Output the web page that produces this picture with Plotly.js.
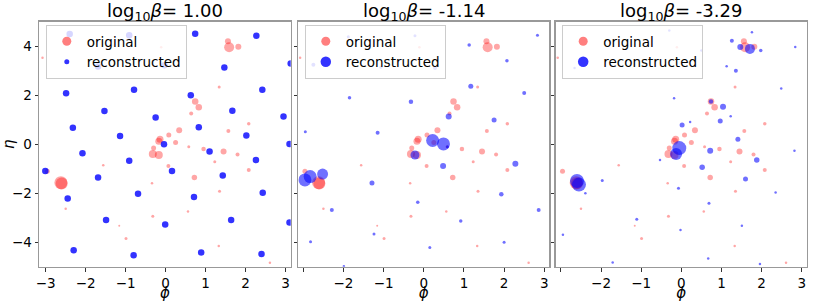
<!DOCTYPE html>
<html>
<head>
<meta charset="utf-8">
<script src="https://cdn.plot.ly/plotly-3.0.1.min.js"></script>
<style>html,body{margin:0;padding:0;background:#fff}#chart{width:822px;height:302px}</style>
</head>
<body>
<div id="chart"></div>
<script>
// ---- data ----
const panelTitles = ['log<sub>10</sub><i>β</i>= 1.00', 'log<sub>10</sub><i>β</i>= -1.14', 'log<sub>10</sub><i>β</i>= -3.29'];
const xTickVals1 = [-3, -2, -1, 0, 1, 2, 3];
const xTickText1 = ['−3', '−2', '−1', '0', '1', '2', '3'];
const xTickValsN = [-2, -1, 0, 1, 2, 3];
const xTickTextN = ['−2', '−1', '0', '1', '2', '3'];
const xUnlabelledTicks = [-3];
const yTickVals = [-4, -2, 0, 2, 4];

// original (same in all panels)
const phiOrig  = [1.59, 1.56, 1.82, -3.08, -0.11, 1.34, 0.74, 0.83, 0.64, 2.08, 1.57, 0.34, 0.08, -0.14, -0.17, 0.25, -0.30, 0.58, 0.95, 1.45, 1.80, -0.32, -0.17, 1.23, 0.07, -1.56, 2.08, -2.96, -2.62, -2.60, 0.72, -0.34, 1.35, -2.50, 0.56, -0.32, -1.16, -0.99, 1.33, 2.61];
const etaOrig  = [3.96, 4.20, 3.98, 3.53, 3.96, 2.33, 1.74, 1.51, 1.25, 0.83, 0.54, 0.57, 0.38, 0.20, 0.12, 0.07, -0.16, -0.10, -0.20, -0.30, -0.42, -0.40, -0.44, -0.72, -0.89, -0.86, -1.05, -1.10, -1.57, -1.60, -1.36, -1.59, -1.92, -2.63, -2.75, -2.94, -3.33, -3.85, -4.15, -4.84];
const sizeOrig = [10, 6, 6, 2.5, 2.5, 3, 6.5, 6.5, 4, 3.5, 4, 6, 5, 7, 7, 5, 5, 3, 4.5, 6, 4, 8, 8, 3, 4, 2.5, 4, 5, 13, 12, 5.5, 2.5, 3, 2.5, 2.5, 3, 2, 3, 2.5, 2.5];

// reconstructed, panel 1
const phiRec1 = [-2.40, -0.91, 0.74, 2.27, -1.69, -0.03, 1.47, 3.13, -2.49, -0.79, 2.42, 0.63, -1.53, 1.67, -0.25, 2.95, -2.32, 0.83, -1.14, 2.02, -0.04, 3.10, 1.10, -2.08, -0.91, 2.26, -3.01, 0.16, -1.69, 1.43, -2.45, -0.69, 0.71, 2.43, -1.49, 1.64, -0.01, 3.10, -2.30, -0.80, 0.89, 2.40];
const etaRec1 = [4.50, 4.45, 4.51, 4.43, 3.17, 3.22, 3.13, 3.29, 2.08, 2.22, 2.22, 2.00, 1.36, 1.37, 1.09, 1.13, 0.67, 0.69, 0.33, 0.35, 0.00, 0.01, -0.30, -0.37, -0.68, -0.65, -1.09, -1.09, -1.36, -1.28, -2.22, -2.02, -2.16, -1.98, -3.09, -3.09, -3.28, -3.20, -4.33, -4.53, -4.42, -4.48];
const sizeRec1 = 6.5;

// reconstructed, panel 2
const phiRec2  = [-1.88, -0.22, 2.83, 1.13, -2.75, -1.07, 0.28, 2.07, 1.17, -1.85, 2.50, -0.32, 0.62, 1.75, -2.95, -1.15, 0.22, 0.49, 0.59, -0.22, 0.48, 2.28, -2.83, -2.96, -2.52, -1.29, 1.93, -0.15, -2.29, 2.86, 0.92, -1.24, -2.82, 2.00, 0.15, -1.99];
const etaRec2  = [4.39, 4.43, 4.45, 4.05, 3.24, 3.14, 3.11, 3.41, 2.37, 1.90, 2.09, 1.73, 1.13, 0.99, 0.51, 0.47, 0.15, 0.01, -0.10, -0.44, -0.89, -0.80, -1.32, -1.46, -1.22, -1.58, -2.04, -2.37, -2.69, -2.69, -3.13, -3.67, -3.98, -4.00, -4.22, -4.98];
const sizeRec2 = [3, 3, 3, 3.5, 4, 3, 4, 3.5, 5, 3.5, 4, 4.5, 6, 5, 3, 4, 13, 13, 3, 9, 6, 6, 13, 13, 11, 5, 4.5, 3.5, 4, 4, 3.5, 3, 3, 3, 3, 2.5];

// reconstructed, panel 3
const phiRec3  = [-0.30, 0.50, -2.66, 1.76, 1.26, 1.47, 1.71, 1.98, 2.84, 1.13, 1.36, 2.49, -0.18, 0.74, 1.04, 1.23, 0.97, 0.22, 0.02, 1.41, -0.05, -0.13, 0.72, -0.53, 0.52, 1.88, 2.82, -1.97, -2.60, -2.55, -2.39, 1.60, -0.07, 2.35, 0.69, -1.11, 1.51, -0.02, -2.95, 0.67, -1.71, 1.96];
const etaRec3  = [4.64, 3.82, 3.11, 4.57, 4.22, 3.97, 3.89, 3.82, 3.97, 3.18, 3.00, 2.27, 1.88, 1.74, 1.53, 1.14, 0.95, 0.91, 0.78, 0.20, -0.16, -0.40, -0.27, -0.64, -0.94, -0.65, -0.27, -1.48, -1.50, -1.65, -2.00, -1.42, -1.80, -1.97, -2.41, -3.06, -3.33, -3.50, -3.70, -4.67, -4.83, -4.89];
const sizeRec3 = [2.5, 2.5, 2.5, 2.5, 4, 6, 10, 3.5, 2.5, 2.5, 4, 2.5, 2.5, 4.5, 6, 2.5, 5, 2.5, 5, 5, 14, 12, 6, 2.5, 5.5, 5.5, 2.5, 3, 14, 14, 2.5, 5, 3, 2.5, 3, 3, 2.5, 2.5, 2.5, 2.5, 2.5, 2.5];

const legendSizes = [[9, 5], [9, 10.5], [9, 10.5]];

// ---- style ----
const RED = 'rgba(255,0,0,0.5)';
const BLUE = 'rgba(0,0,255,0.8)';
const FONT = 'DejaVu Sans, Liberation Sans, sans-serif';
const W = 822, H = 302;
const xDomPx = [[39.3, 290.7], [298.3, 549.3], [555.7, 806.7]];
const yDomPx = [21.7, 266.7];
const xRanges = [[-3.16, 3.13], [-3.125, 3.125], [-3.13, 3.125]];

const recPhi = [phiRec1, phiRec2, phiRec3];
const recEta = [etaRec1, etaRec2, etaRec3];
const recSize = [sizeRec1, sizeRec2, sizeRec3];

const traces = [];
const layout = {
  width: W, height: H,
  margin: {l: 0, r: 0, t: 0, b: 0},
  paper_bgcolor: '#fff', plot_bgcolor: '#fff',
  font: {family: FONT, color: '#000'},
  annotations: []
};

for (let i = 0; i < 3; i++) {
  const sfx = i === 0 ? '' : String(i + 1);
  const xa = 'x' + sfx, ya = 'y' + sfx, lg = 'legend' + sfx;
  traces.push({type: 'scatter', mode: 'markers', x: phiOrig, y: etaOrig, xaxis: xa, yaxis: ya,
    marker: {color: RED, size: sizeOrig, line: {width: 0}}, showlegend: false, hoverinfo: 'skip'});
  traces.push({type: 'scatter', mode: 'markers', x: recPhi[i], y: recEta[i], xaxis: xa, yaxis: ya,
    marker: {color: BLUE, size: recSize[i], line: {width: 0}}, showlegend: false, hoverinfo: 'skip'});
  // legend entries
  traces.push({type: 'scatter', mode: 'markers', x: [null], y: [null], xaxis: xa, yaxis: ya, name: 'original',
    marker: {color: RED, size: legendSizes[i][0], line: {width: 0}}, legend: lg, showlegend: true});
  traces.push({type: 'scatter', mode: 'markers', x: [null], y: [null], xaxis: xa, yaxis: ya, name: 'reconstructed',
    marker: {color: BLUE, size: legendSizes[i][1], line: {width: 0}}, legend: lg, showlegend: true});

  const xaxis = {
    domain: [xDomPx[i][0] / W, xDomPx[i][1] / W], range: xRanges[i], anchor: ya,
    tickmode: 'array', tickvals: i === 0 ? xTickVals1 : xTickValsN, ticktext: i === 0 ? xTickText1 : xTickTextN,
    ticks: 'outside', ticklen: 3.5, tickwidth: 1, tickcolor: '#333',
    showline: true, mirror: true, linecolor: '#999', linewidth: 1.3,
    showgrid: false, zeroline: false,
    tickfont: {size: 13.5, family: FONT, color: '#000'},
    title: {text: '<i>ϕ</i>', font: {size: 15, family: FONT, color: '#000'}, standoff: 4}
  };
  if (i > 0) {
    xaxis.minor = {tickmode: 'array', tickvals: xUnlabelledTicks, ticks: 'outside', ticklen: 3.5, tickwidth: 1, tickcolor: '#333', showgrid: false};
  }
  layout['xaxis' + sfx] = xaxis;
  const yaxis = {
    domain: [1 - yDomPx[1] / H, 1 - yDomPx[0] / H], range: [-5, 5], anchor: xa,
    tickmode: 'array', tickvals: yTickVals, showticklabels: i === 0,
    ticks: 'outside', ticklen: 3.5, tickwidth: 1, tickcolor: '#333',
    showline: true, mirror: true, linecolor: '#999', linewidth: 1.3,
    showgrid: false, zeroline: false,
    tickfont: {size: 13.5, family: FONT, color: '#000'}
  };
  if (i === 0) yaxis.title = {text: '<i>η</i>', font: {size: 15, family: FONT, color: '#000'}, standoff: 6};
  layout['yaxis' + sfx] = yaxis;
  layout[lg] = {
    x: (xDomPx[i][0] + 6.5) / W, y: 1 - 25 / H, xanchor: 'left', yanchor: 'top',
    bgcolor: 'rgba(255,255,255,0.8)', bordercolor: '#cccccc', borderwidth: 1,
    font: {size: 13.5, family: FONT, color: '#000'}, itemsizing: 'trace', tracegroupgap: 0
  };
  layout.annotations.push({
    text: panelTitles[i], xref: xa + ' domain', yref: 'paper', x: 0.5, y: 1 - 11.5 / H,
    xanchor: 'center', yanchor: 'middle', showarrow: false, borderpad: 0,
    font: {size: 18, family: FONT, color: '#000'}
  });
}

Plotly.newPlot('chart', traces, layout, {staticPlot: true, displayModeBar: false});
</script>
</body>
</html>
